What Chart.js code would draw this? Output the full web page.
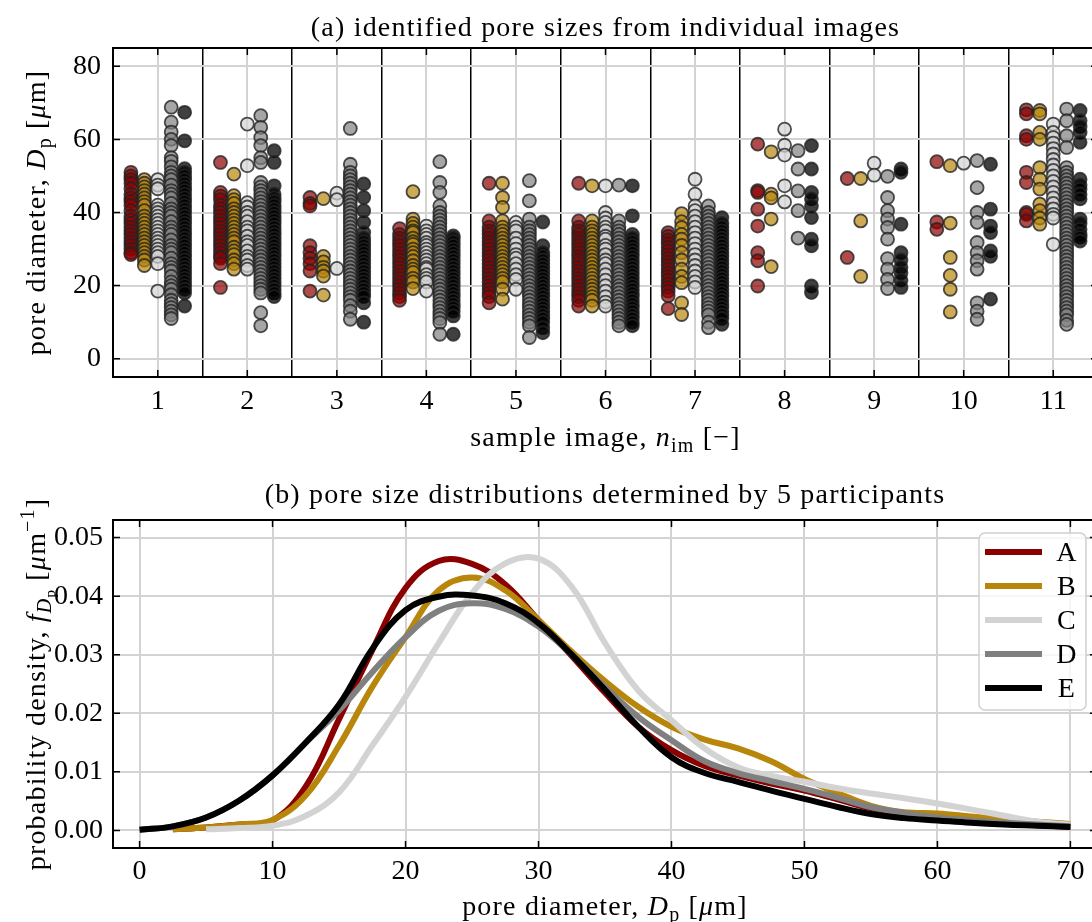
<!DOCTYPE html>
<html>
<head>
<meta charset="utf-8">
<script src="https://cdn.jsdelivr.net/npm/chart.js@4.4.1/dist/chart.umd.min.js"></script>
<style>
html, body { margin: 0; padding: 0; background: #fff; overflow: hidden; width: 1092px; height: 922px; }
#wrap { position: relative; width: 1092px; height: 922px; overflow: hidden; }
canvas { position: absolute; left: 0; }
#scatterChart { top: 0; }
#pdfChart { top: 460px; }
</style>
</head>
<body>
<div id="wrap">
  <canvas id="scatterChart" width="1110" height="460"></canvas>
  <canvas id="pdfChart" width="1110" height="462"></canvas>
</div>
<script>
// --- data -------------------------------------------------------------
const participants = ['A', 'B', 'C', 'D', 'E'];
const sampleImages = [1, 2, 3, 4, 5, 6, 7, 8, 9, 10, 11];
const diameterTicks = [0, 20, 40, 60, 80];

// pore diameters (um) identified per image, one list per image
const poresA = [
  [51, 50, 49, 48, 46.5, 45, 44, 43, 42, 40.5, 39, 38, 37, 36, 35, 34, 33, 32, 31, 30, 29, 28.5],
  [53.7, 45.5, 44.5, 43.5, 42, 41, 40, 39, 38, 37, 36, 35, 34, 33, 32, 31, 30, 29, 28, 27.5, 26, 19.5],
  [44.1, 42.5, 41.8, 30.9, 29, 27.5, 26, 24, 18.5],
  [35.6, 34, 33, 32, 31, 30, 29, 28, 27, 26, 25, 24, 23, 22, 21, 20, 19, 18, 17, 16],
  [48, 37.7, 36, 35, 34, 33, 32, 31, 30, 29, 28, 27, 26, 25, 24, 23, 22, 21, 20, 19, 18, 17, 15.3],
  [48, 37.7, 36, 35, 34, 33, 32, 31, 30, 29, 28, 27, 26, 25, 24, 23, 22, 21, 20, 19, 18, 17, 16, 14.4],
  [34.5, 33.5, 32.5, 31.5, 30.5, 29.5, 28.5, 27.5, 26.5, 25.5, 24.5, 23.5, 22.5, 21.5, 20.5, 19.5, 18.5, 17.2, 13.7],
  [58.7, 46, 45.5, 40.9, 36.3, 29, 26.8, 19.9],
  [49.3, 27.7],
  [53.9, 37.4, 35.4],
  [68.1, 67, 61, 60, 51, 48.2, 40, 39.5, 37.7]
];
const poresB = [
  [49, 48, 47, 46, 45, 44, 43, 42, 40.5, 39, 38, 37, 36, 35, 34, 33, 32, 31, 30, 29, 28, 27, 25.5],
  [50.5, 44.6, 43.5, 42.5, 41, 40, 39, 38, 37, 36, 35, 34, 33, 32, 30.5, 29.5, 28.5, 27, 26, 24.5],
  [43.8, 28, 26.5, 25, 24, 22.6, 17.4],
  [45.7, 38.2, 37, 36, 35, 34.5, 33, 32, 31.3, 30, 29, 28, 26.8, 25.5, 24.5, 23.6, 22, 21, 19.2],
  [48, 44.1, 41.4, 37.7, 36, 35, 34, 33, 32, 31, 30, 29, 28, 27, 26, 25, 24, 23, 22, 21, 19, 16.3],
  [47.3, 37.7, 36, 35, 34, 33, 32, 31, 30, 29, 28, 27, 26, 25, 24, 23, 22, 21, 20, 19, 18, 17, 16, 14.4],
  [39.7, 37.5, 35.9, 34, 32.7, 31, 29, 27, 24.5, 22.5, 20.8, 15.3, 12.1],
  [56.6, 45, 44, 38.2, 25.2],
  [49.3, 37.7, 22.5],
  [52.8, 37.1, 27.7, 22.8, 19, 12.8],
  [67.9, 67, 61.9, 60, 52.3, 49.1, 46.4, 42.3, 40.5, 38.5, 36.8]
];
const poresC = [
  [49, 47.5, 46.5, 42, 41, 40, 39, 38, 37, 36, 35, 34, 33, 32, 31, 30, 29, 28, 26, 18.5],
  [64.2, 52.8, 42.7, 41.5, 40, 39, 37.5, 36, 35, 33.5, 32, 31, 29.5, 28, 27, 25.5, 24.5],
  [45.3, 43.5, 24.7],
  [36.3, 35, 34, 33, 31.8, 31, 30, 29, 28, 27, 26, 25, 24.5, 23, 22, 21, 18.5],
  [37.3, 36, 35, 33, 31.5, 30, 28.5, 27.5, 26, 24.5, 23, 21.7, 19],
  [47.3, 40, 38.5, 37.3, 36, 35, 33.5, 32.7, 31, 30, 28.5, 27, 26, 24.5, 23, 21.5, 20, 18.5, 17, 15.5, 14.4],
  [49.1, 45, 41.8, 40.5, 39, 37.5, 36, 34.5, 33, 31.5, 30, 28.5, 27, 25.5, 24, 22.5, 21, 19.5],
  [62.8, 58.4, 55.7, 47.3, 42.9],
  [53.5, 50.2],
  [53.5],
  [64.2, 61.9, 60.5, 59, 57.5, 56, 54.5, 53, 51.5, 50, 48.5, 47, 45.5, 44, 42.5, 41, 39.5, 38.5, 31.3]
];
const poresD = [
  [68.8, 64.7, 62, 60, 58.3, 55, 54, 52.5, 51, 50, 49, 47.5, 46, 45, 44, 42.5, 41, 40, 39, 37.5, 36, 35, 34, 32.5, 31, 30,
   29, 27.5, 26, 25, 24, 22.5, 21, 20, 19, 17.5, 16, 15, 14, 13, 12, 11],
  [66.5, 63.3, 60.5, 58.3, 55, 53.7, 48.2, 47, 46, 45, 44, 43, 42, 41, 40, 39, 38, 37, 36, 35, 34, 33, 32, 31, 30, 29, 28,
   27, 26, 25, 24, 23, 22, 21, 20, 19, 18, 12.6, 9],
  [63, 53.2, 51, 50, 49, 48, 47, 46, 45, 44, 43, 42, 41, 40, 39, 38, 37, 36, 35, 34, 33, 32, 31, 30, 29, 28, 27, 26, 25,
   24, 23, 22, 21, 20, 19, 18, 17, 16, 14.5, 13, 10.8],
  [53.9, 48.2, 45.5, 41.8, 40, 39, 38, 37, 36, 35, 34, 33, 32, 31, 30, 29, 28, 27, 26, 25, 24, 23, 22, 21, 20, 19, 18, 17,
   16, 15, 14, 13, 12, 11, 9.9, 6.7],
  [48.7, 43.2, 38.2, 36, 35, 34, 33, 32, 31, 30, 29, 28, 27, 26, 25, 24, 23, 22, 21, 20, 19, 18, 17, 16, 15, 14, 13, 12,
   11, 10, 9, 5.8],
  [47.5, 37.7, 36, 35, 34, 33, 32, 31, 30, 29, 28, 27, 26, 25, 24, 23, 22, 21, 20, 19, 18, 17, 16, 15, 14, 13, 12, 11, 10, 9],
  [41.8, 40, 39, 38, 37, 36, 35, 34, 33, 32, 31, 30, 29, 28, 27, 26, 25, 24, 23, 22, 21, 20, 19, 18, 17, 16, 15, 14, 13,
   12, 10, 8.5],
  [56.9, 51.9, 45.9, 40.5, 33],
  [49.9, 44.1, 40.5, 38.2, 35.9, 32.7, 27.4, 24.5, 21.7, 19.2],
  [54.2, 46.8, 40, 37.3, 31.8, 29, 26.8, 24.5, 15.3, 13, 10.8],
  [68.3, 65.1, 61, 57.8, 52.3, 51, 50, 49, 48, 47, 46, 45, 44, 43, 42, 41, 40, 39, 38, 37, 36, 35, 34, 33, 32, 31, 30,
   29, 28, 27, 26, 25, 24, 23, 22, 21, 20, 19, 18, 17, 16, 15, 14, 13, 12, 10.5, 9.4]
];
const poresE = [
  [67.4, 59.6, 52, 51, 50, 49, 48, 47, 46, 45, 44, 43, 42, 41, 40, 39, 38, 37, 36, 35, 34, 33, 32, 31, 30, 29, 28, 27, 26,
   25, 24, 23, 22, 21, 20, 19, 18, 14.4],
  [56.9, 53.7, 47.3, 45, 44, 43, 42, 41, 40, 39, 38, 37, 36, 35, 34, 33, 32, 31, 30, 29, 28, 27, 26, 25, 24, 23, 22, 21,
   20, 19, 18, 17],
  [47.8, 44.1, 40.5, 37.3, 34.5, 33, 32, 31, 30, 29, 28, 27, 26, 25, 24, 23, 22, 21, 20, 19, 18, 17, 15.3, 10],
  [33.6, 33, 32, 31, 30, 29, 28, 27, 26, 25, 24, 23, 22, 21, 20, 19, 18, 17, 16, 15, 14, 13, 11.7, 6.7],
  [37.4, 30.9, 29, 28, 27, 26, 25, 24, 23, 22, 21, 20, 19, 18, 17, 16, 15, 14, 13, 12, 11, 10, 8.5, 7.1],
  [47.3, 39.1, 34, 33, 32, 31, 30, 29, 28, 27, 26, 25, 24, 23, 22, 21, 20, 19, 18, 17, 16, 15, 14, 13, 12, 11, 10, 9],
  [38.6, 37, 36, 35, 34, 33, 32, 31, 30, 29, 28, 27, 26, 25, 24, 23, 22, 21, 20, 19, 18, 17, 16, 15, 14, 13, 12, 11, 9.4],
  [58.3, 51.9, 45.5, 43.7, 41.8, 38.6, 32.7, 30.9, 19.9, 18.1],
  [51.9, 51, 36.8, 29, 27, 25, 23.5, 21.5, 19.5],
  [53.2, 40.9, 36.3, 34.5, 29.5, 28, 16.3],
  [67.9, 65.1, 63.5, 61.9, 59.2, 49.1, 47.5, 46.4, 45, 43.7, 38.2, 37, 35.4, 34, 33.2, 32.2]
];

// probability density curves (1/um) on a common diameter grid
const dpGrid = [0, 2.5, 5, 7.5, 10, 12.5, 15, 17.5, 20, 22.5, 25, 27.5, 30, 32.5, 35,
                37.5, 40, 42.5, 45, 47.5, 50, 52.5, 55, 57.5, 60, 62.5, 65, 67.5, 70];
const pdfA = [null, 0.0002, 0.0005, 0.0010, 0.0017, 0.0075, 0.0190, 0.0308, 0.0414, 0.0460, 0.0455, 0.0420, 0.0359, 0.0298, 0.0235,
              0.0177, 0.0137, 0.0110, 0.0094, 0.0080, 0.0068, 0.0053, 0.0038, 0.0028, 0.0021, 0.0016, 0.0012, 0.0009, 0.0006];
const pdfB = [null, 0.0002, 0.0005, 0.0010, 0.0018, 0.0060, 0.0145, 0.0245, 0.0330, 0.0410, 0.0432, 0.0410, 0.0359, 0.0305, 0.0255,
              0.0211, 0.0177, 0.0155, 0.0140, 0.0118, 0.0088, 0.0064, 0.0042, 0.0031, 0.0029, 0.0024, 0.0019, 0.0015, 0.0011];
const pdfC = [null, null, 0.0002, 0.0004, 0.0008, 0.0025, 0.0065, 0.0145, 0.0228, 0.0320, 0.0405, 0.0456, 0.0464, 0.0416, 0.0320,
              0.0239, 0.0188, 0.0140, 0.0108, 0.0093, 0.0083, 0.0072, 0.0063, 0.0055, 0.0046, 0.0036, 0.0025, 0.0015, 0.0010];
const pdfD = [0.0001, 0.0007, 0.0022, 0.0051, 0.0094, 0.0150, 0.0205, 0.0270, 0.0330, 0.0375, 0.0388, 0.0378, 0.0348, 0.0300, 0.0245,
              0.0194, 0.0154, 0.0118, 0.0098, 0.0084, 0.0071, 0.0056, 0.0040, 0.0030, 0.0022, 0.0017, 0.0013, 0.0010, 0.0007];
const pdfE = [0.0001, 0.0007, 0.0022, 0.0051, 0.0094, 0.0150, 0.0215, 0.0310, 0.0376, 0.0399, 0.0401, 0.0388, 0.0354, 0.0300, 0.0240,
              0.0177, 0.0125, 0.0098, 0.0083, 0.0068, 0.0054, 0.0040, 0.0028, 0.0021, 0.0017, 0.0013, 0.0010, 0.0008, 0.0006];
const pdfXTicks = [0, 10, 20, 30, 40, 50, 60, 70];
const pdfYTicks = [0, 0.01, 0.02, 0.03, 0.04, 0.05];

// --- styles -----------------------------------------------------------
const FONT = "'Liberation Serif', 'DejaVu Serif', serif";
const FS = 28;
const lineColors = ['#8b0000', '#b8860b', '#d3d3d3', '#808080', '#000000'];
const markerFill = ['rgba(139,0,0,0.7)', 'rgba(184,134,11,0.7)', 'rgba(211,211,211,0.7)',
                    'rgba(128,128,128,0.7)', 'rgba(0,0,0,0.75)'];
const columnOffset = [-0.3, -0.15, 0, 0.15, 0.3];
const GRID = '#d3d3d3';

Chart.defaults.font.family = FONT;
Chart.defaults.font.size = FS;
Chart.defaults.color = '#000';

// text with italic / sub / sup runs
const RUN = {
    n: { k: 1, dy: 0 },
    i: { k: 1, dy: 0, it: true },
    sub: { k: 0.7, dy: 0.22 },
    isub: { k: 0.7, dy: 0.22, it: true },
    sub2: { k: 0.52, dy: 0.36 },
    sup: { k: 0.7, dy: -0.4 }
};
function drawRich(ctx, runs, cx, cy, angle) {
    ctx.save();
    ctx.letterSpacing = '1.2px';
    const parts = runs.map(([t, s]) => {
        const st = RUN[s || 'n'];
        const font = (st.it ? 'italic ' : '') + Math.round(FS * st.k) + 'px ' + FONT;
        ctx.font = font;
        return { t, st, font, w: ctx.measureText(t).width };
    });
    const total = parts.reduce((a, p) => a + p.w, 0);
    ctx.translate(cx, cy);
    ctx.rotate(angle || 0);
    ctx.fillStyle = '#000';
    ctx.textBaseline = 'alphabetic';
    ctx.textAlign = 'left';
    let x = -total / 2;
    parts.forEach(p => {
        ctx.font = p.font;
        ctx.fillText(p.t, x, FS * 0.33 + p.st.dy * FS);
        x += p.w;
    });
    ctx.restore();
}

function drawFrame(chart, xFilter) {
    const { ctx, chartArea: a, scales: { x, y } } = chart;
    const tl = 7;
    ctx.save();
    ctx.strokeStyle = '#000';
    ctx.lineWidth = 1.5;
    ctx.beginPath();
    x.ticks.forEach(t => {
        if (xFilter && !xFilter(t.value)) return;
        const px = x.getPixelForValue(t.value);
        ctx.moveTo(px, a.bottom); ctx.lineTo(px, a.bottom - tl);
        ctx.moveTo(px, a.top); ctx.lineTo(px, a.top + tl);
    });
    y.ticks.forEach(t => {
        const py = y.getPixelForValue(t.value);
        ctx.moveTo(a.left, py); ctx.lineTo(a.left + tl, py);
        ctx.moveTo(a.right, py); ctx.lineTo(a.right - tl, py);
    });
    ctx.stroke();
    ctx.lineWidth = 2;
    ctx.strokeRect(a.left, a.top, a.right - a.left, a.bottom - a.top);
    ctx.restore();
}

// --- (a) scatter ------------------------------------------------------
const poreLists = [poresA, poresB, poresC, poresD, poresE];
const scatterSets = participants.map((p, k) => ({
    label: p,
    data: poreLists[k].flatMap((vals, g) => vals.map(v => ({ x: sampleImages[g] + columnOffset[k], y: v }))),
    backgroundColor: markerFill[k],
    borderColor: 'rgba(35,35,35,0.8)',
    borderWidth: 1.8,
    pointRadius: 6.5,
    order: participants.length - k
}));

const halfTicks = [];
sampleImages.forEach(n => { halfTicks.push(n - 0.5, n); });
halfTicks.push(sampleImages[sampleImages.length - 1] + 0.5);

new Chart(document.getElementById('scatterChart'), {
    type: 'scatter',
    data: { datasets: scatterSets },
    options: {
        responsive: false,
        animation: false,
        devicePixelRatio: 1,
        layout: { padding: { top: 48, right: 12, left: 0, bottom: 0 } },
        plugins: { legend: { display: false }, tooltip: { enabled: false } },
        scales: {
            x: {
                type: 'linear',
                min: 0.5,
                max: 11.5,
                afterBuildTicks: s => { s.ticks = halfTicks.map(v => ({ value: v })); },
                afterFit: s => { s.height = 83; },
                border: { display: false },
                grid: {
                    drawTicks: false,
                    color: c => (c.tick && c.tick.value % 1 !== 0) ? '#000' : GRID,
                    lineWidth: c => (c.tick && c.tick.value % 1 !== 0) ? 1.5 : 2
                },
                ticks: {
                    autoSkip: false, maxRotation: 0, padding: 8,
                    callback: v => Number.isInteger(v) ? String(v) : ''
                }
            },
            y: {
                min: -5,
                max: 85,
                afterBuildTicks: s => { s.ticks = diameterTicks.map(v => ({ value: v })); },
                afterFit: s => { s.width = 113; },
                border: { display: false },
                grid: { drawTicks: false, color: GRID, lineWidth: 2 },
                ticks: { padding: 12 }
            }
        }
    },
    plugins: [{
        id: 'decorA',
        afterDraw(chart) {
            const { ctx, chartArea: a } = chart;
            drawFrame(chart, v => Number.isInteger(v));
            const cx = (a.left + a.right) / 2;
            drawRich(ctx, [['(a) identified pore sizes from individual images']], cx, a.top - 21);
            drawRich(ctx, [['sample image, '], ['n', 'i'], ['im', 'sub'], [' [\u2212]']], cx, a.bottom + 60);
            drawRich(ctx, [['pore diameter, '], ['D', 'i'], ['p', 'sub'], [' ['], ['\u03bc', 'i'], ['m]']],
                36, (a.top + a.bottom) / 2, -Math.PI / 2);
        }
    }]
});

// --- (b) probability densities -----------------------------------------
const pdfLists = [pdfA, pdfB, pdfC, pdfD, pdfE];
const pdfSets = participants.map((p, k) => ({
    label: p,
    data: dpGrid.map((d, j) => ({ x: d, y: pdfLists[k][j] })).filter(pt => pt.y !== null),
    borderColor: lineColors[k],
    backgroundColor: lineColors[k],
    borderWidth: 6,
    pointRadius: 0,
    fill: false,
    tension: 0.4,
    order: participants.length - k
}));

new Chart(document.getElementById('pdfChart'), {
    type: 'line',
    data: { datasets: pdfSets },
    options: {
        responsive: false,
        animation: false,
        devicePixelRatio: 1,
        layout: { padding: { top: 60, right: 13, left: 0, bottom: 0 } },
        plugins: { legend: { display: false }, tooltip: { enabled: false } },
        scales: {
            x: {
                type: 'linear',
                min: -2,
                max: 72,
                afterBuildTicks: s => { s.ticks = pdfXTicks.map(v => ({ value: v })); },
                afterFit: s => { s.height = 74; },
                border: { display: false },
                grid: { drawTicks: false, color: GRID, lineWidth: 2 },
                ticks: { autoSkip: false, maxRotation: 0, padding: 7 }
            },
            y: {
                min: -0.003,
                max: 0.053,
                afterBuildTicks: s => { s.ticks = pdfYTicks.map(v => ({ value: v })); },
                afterFit: s => { s.width = 113; },
                border: { display: false },
                grid: { drawTicks: false, color: GRID, lineWidth: 2 },
                ticks: { padding: 10, callback: v => v.toFixed(2) }
            }
        }
    },
    plugins: [{
        id: 'decorB',
        afterDraw(chart) {
            const { ctx, chartArea: a } = chart;
            // legend
            const bx = a.right - 118, by = a.top + 13, bw = 107, bh = 177;
            ctx.save();
            ctx.fillStyle = 'rgba(255,255,255,0.8)';
            ctx.strokeStyle = '#d0d0d0';
            ctx.lineWidth = 1.5;
            ctx.beginPath();
            ctx.roundRect(bx, by, bw, bh, 6);
            ctx.fill();
            ctx.stroke();
            chart.data.datasets.forEach((ds, i) => {
                const ly = by + 19 + i * 34;
                ctx.strokeStyle = ds.borderColor;
                ctx.lineWidth = 6;
                ctx.beginPath();
                ctx.moveTo(bx + 6, ly);
                ctx.lineTo(bx + 63, ly);
                ctx.stroke();
                drawRich(ctx, [[ds.label]], bx + 88, ly);
            });
            ctx.restore();
            drawFrame(chart);
            const cx = (a.left + a.right) / 2;
            drawRich(ctx, [['(b) pore size distributions determined by 5 participants']], cx, a.top - 26);
            drawRich(ctx, [['pore diameter, '], ['D', 'i'], ['p', 'sub'], [' ['], ['\u03bc', 'i'], ['m]']], cx, a.bottom + 58);
            drawRich(ctx, [['probability density, '], ['f', 'i'], ['D', 'isub'], ['p', 'sub2'], [' ['], ['\u03bc', 'i'], ['m'], ['\u22121', 'sup'], [']']],
                36, (a.top + a.bottom) / 2, -Math.PI / 2);
        }
    }]
});
</script>
</body>
</html>
